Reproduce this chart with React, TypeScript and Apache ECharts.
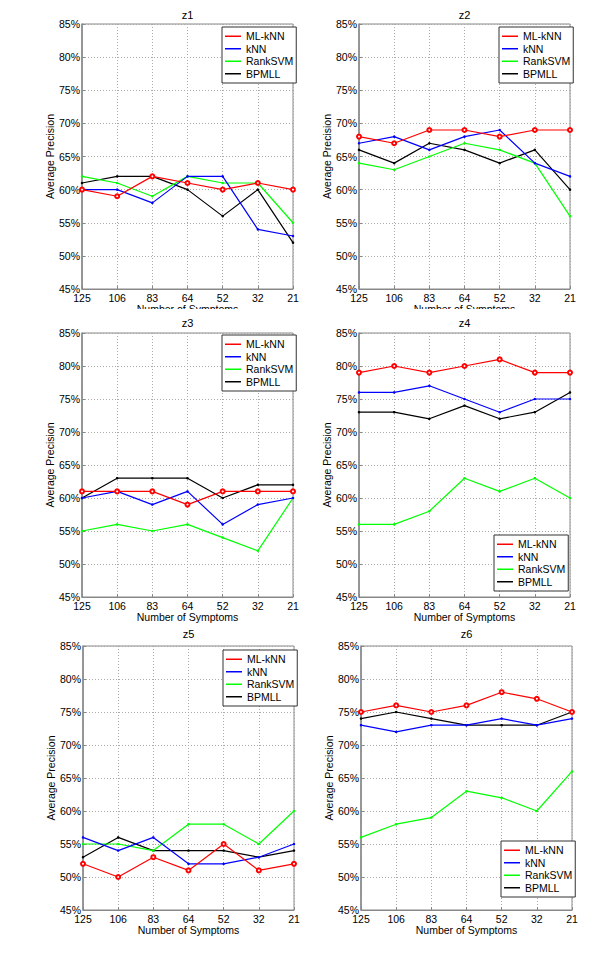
import React, { useEffect, useRef } from "react";
import * as echarts from "echarts";

const categories = ["125", "106", "83", "64", "52", "32", "21"];
const methodNames = ["ML-kNN", "kNN", "RankSVM", "BPMLL"];
const methodColors = ["#ff0000", "#0000ff", "#00ff00", "#000000"];
const panelTitles = ["z1", "z2", "z3", "z4", "z5", "z6"];
const yTicks = [45, 50, 55, 60, 65, 70, 75, 80, 85];

// values per panel, order: ML-kNN, kNN, RankSVM, BPMLL
const z1Values = [
  [60, 59, 62, 61, 60, 61, 60],
  [60, 60, 58, 62, 62, 54, 53],
  [62, 61, 59, 62, 61, 61, 55],
  [61, 62, 62, 60, 56, 60, 52],
];
const z2Values = [
  [68, 67, 69, 69, 68, 69, 69],
  [67, 68, 66, 68, 69, 64, 62],
  [64, 63, 65, 67, 66, 64, 56],
  [66, 64, 67, 66, 64, 66, 60],
];
const z3Values = [
  [61, 61, 61, 59, 61, 61, 61],
  [60, 61, 59, 61, 56, 59, 60],
  [55, 56, 55, 56, 54, 52, 60],
  [60, 63, 63, 63, 60, 62, 62],
];
const z4Values = [
  [79, 80, 79, 80, 81, 79, 79],
  [76, 76, 77, 75, 73, 75, 75],
  [56, 56, 58, 63, 61, 63, 60],
  [73, 73, 72, 74, 72, 73, 76],
];
const z5Values = [
  [52, 50, 53, 51, 55, 51, 52],
  [56, 54, 56, 52, 52, 53, 55],
  [55, 55, 54, 58, 58, 55, 60],
  [53, 56, 54, 54, 54, 53, 54],
];
const z6Values = [
  [75, 76, 75, 76, 78, 77, 75],
  [73, 72, 73, 73, 74, 73, 74],
  [56, 58, 59, 63, 62, 60, 66],
  [74, 75, 74, 73, 73, 73, 75],
];
const panelValues = [z1Values, z2Values, z3Values, z4Values, z5Values, z6Values];

// layout (pixels)
const grids = [
  { left: 82, top: 24, width: 211, height: 265 },
  { left: 359, top: 24, width: 211, height: 265 },
  { left: 82, top: 333, width: 211, height: 264 },
  { left: 359, top: 333, width: 211, height: 264 },
  { left: 83, top: 646, width: 211, height: 264 },
  { left: 361, top: 646, width: 211, height: 264 },
];
const titleTops = [9, 9, 317, 317, 628, 628];
const legendPos = [
  { left: 222, top: 27 },
  { left: 499, top: 27 },
  { left: 222, top: 335 },
  { left: 494, top: 535 },
  { left: 223, top: 650 },
  { left: 501, top: 841 },
];

const FONT = "'Liberation Sans', Arial, Helvetica, sans-serif";

export default function App() {
  const ref = useRef<HTMLDivElement>(null);
  useEffect(() => {
    if (!ref.current) return;
    const chart = echarts.init(ref.current, null, { renderer: "svg" });
    const series: any[] = [];
    panelValues.forEach((vals, p) => {
      vals.forEach((arr, m) => {
        series.push({
          type: "line",
          name: methodNames[m],
          xAxisIndex: p,
          yAxisIndex: p,
          data: arr,
          color: methodColors[m],
          lineStyle: { width: 1.2, color: methodColors[m] },
          itemStyle: { color: methodColors[m], borderWidth: 1 },
          symbol: m === 0 ? "emptyCircle" : "circle",
          symbolSize: m === 0 ? 4 : 2.5,
          showSymbol: true,
          z: 5 - m,
        });
      });
    });
    const option: any = {
      animation: false,
      backgroundColor: "#ffffff",
      title: panelTitles.map((t, i) => ({
        text: t,
        left: grids[i].left + grids[i].width / 2,
        top: titleTops[i],
        textAlign: "center",
        padding: 0,
        textStyle: { fontSize: 11, fontWeight: "normal", color: "#000", fontFamily: FONT },
      })),
      legend: legendPos.map((lp) => ({
        orient: "vertical",
        left: lp.left,
        top: lp.top,
        data: methodNames,
        icon: "rect",
        itemWidth: 16,
        itemHeight: 1.5,
        itemGap: 0,
        padding: [3, 3, 3, 3],
        backgroundColor: "#ffffff",
        borderColor: "#333333",
        borderWidth: 1,
        borderRadius: 0,
        selectedMode: false,
        textStyle: { fontSize: 10.5, lineHeight: 12.5, color: "#000", fontFamily: FONT },
      })),
      grid: grids.map((g) => ({
        left: g.left,
        top: g.top,
        width: g.width,
        height: g.height,
        show: true,
        borderColor: "#888888",
        borderWidth: 1,
        backgroundColor: "#ffffff",
      })),
      xAxis: grids.map((_, i) => ({
        type: "category",
        gridIndex: i,
        data: categories,
        boundaryGap: false,
        name: "Number of Symptoms",
        nameLocation: "middle",
        nameGap: 12,
        nameTextStyle: { fontSize: 10.5, color: "#000", fontFamily: FONT },
        axisLine: { show: true, lineStyle: { color: "#888888" } },
        axisTick: { show: true, inside: true, length: 3, lineStyle: { color: "#888" } },
        axisLabel: { fontSize: 10.5, color: "#000", margin: 3, fontFamily: FONT },
        splitLine: { show: true, lineStyle: { type: [1, 2], color: "#aaaaaa", width: 1 } },
      })),
      yAxis: grids.map((_, i) => ({
        type: "value",
        gridIndex: i,
        min: yTicks[0],
        max: yTicks[yTicks.length - 1],
        interval: 5,
        name: "Average Precision",
        nameLocation: "middle",
        nameGap: 22,
        nameTextStyle: { fontSize: 10.5, color: "#000", fontFamily: FONT },
        axisLine: { show: true, lineStyle: { color: "#888888", width: 1.5 } },
        axisTick: { show: true, inside: true, length: 3, lineStyle: { color: "#888" } },
        axisLabel: { fontSize: 10.5, color: "#000", margin: 2, formatter: "{value}%", fontFamily: FONT },
        splitLine: { show: true, lineStyle: { type: [1, 2], color: "#aaaaaa", width: 1 } },
      })),
      graphic: [
        {
          type: "rect",
          shape: { x: 0, y: 309, width: 600, height: 7 },
          style: { fill: "#ffffff" },
          z: 100,
        },
      ],
      series,
    };
    chart.setOption(option);
    return () => chart.dispose();
  }, []);
  return (
    <div
      ref={ref}
      style={{ position: "absolute", left: 0, top: 0, width: 600, height: 962, background: "#fff" }}
    />
  );
}
